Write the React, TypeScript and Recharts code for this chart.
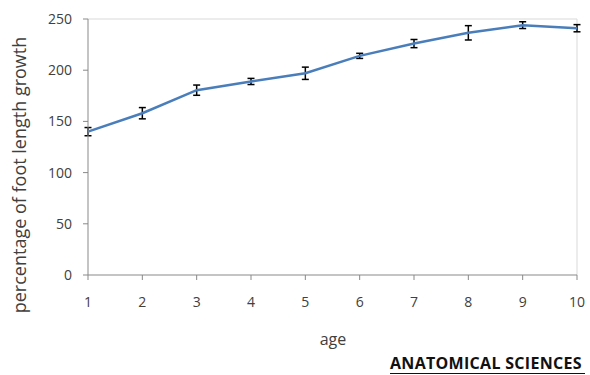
import { LineChart, Line, XAxis, YAxis, ErrorBar, ReferenceLine } from "recharts";

const ages = [1, 2, 3, 4, 5, 6, 7, 8, 9, 10];
const growth = [140, 158, 180.5, 189, 197, 214, 226, 236.5, 244, 241];
const errors = [4, 5.5, 5, 3, 6, 2.5, 4, 7, 3.3, 3.5];
const yTicks = [0, 50, 100, 150, 200, 250];

const data = ages.map((age, i) => ({ age, growth: growth[i], err: errors[i] }));

const axisGray = "#898989";
const textGray = "#404040";
const font = "'Open Sans', sans-serif";

export default function App() {
    return (
        <div style={{ position: "absolute", left: 0, top: 0, width: 590, height: 375, background: "#fff", fontFamily: font }}>
            <LineChart width={590} height={375} data={data} margin={{ top: 19, right: 13, left: 0, bottom: 0 }}>
                <ReferenceLine y={250} stroke="#d9d9d9" strokeWidth={1} />
                <ReferenceLine x={10} stroke="#d9d9d9" strokeWidth={1} />
                <XAxis
                    dataKey="age"
                    type="number"
                    domain={[1, 10]}
                    ticks={ages}
                    height={100}
                    stroke={axisGray}
                    tickSize={5}
                    tickMargin={17}
                    tick={{ fill: textGray, fontSize: 14, fontFamily: font }}
                />
                <YAxis
                    domain={[0, 250]}
                    ticks={yTicks}
                    width={88}
                    stroke={axisGray}
                    tickSize={5}
                    tickMargin={11}
                    tick={{ fill: textGray, fontSize: 14, fontFamily: font }}
                />
                <Line
                    dataKey="growth"
                    stroke="#4a7ebb"
                    strokeWidth={2.5}
                    dot={false}
                    type="linear"
                    isAnimationActive={false}
                >
                    <ErrorBar dataKey="err" direction="y" width={3.5} stroke="#000" strokeWidth={1.5} />
                </Line>
            </LineChart>

            {/* axis titles */}
            <div style={{ position: "absolute", left: 19, top: 175, transform: "translate(-50%, -50%) rotate(-90deg)", whiteSpace: "nowrap", fontSize: 18, color: textGray }}>
                percentage of foot length growth
            </div>
            <div style={{ position: "absolute", left: 333, top: 339, transform: "translate(-50%, -50%)", fontSize: 16, color: textGray }}>
                age
            </div>

            {/* watermark */}
            <div style={{ position: "absolute", left: 390, top: 355, width: 195, fontSize: 16, fontWeight: 700, color: "#111", borderBottom: "1.5px solid #111", lineHeight: "17px", paddingBottom: 1, whiteSpace: "nowrap", letterSpacing: 0.3 }}>
                ANATOMICAL SCIENCES
            </div>
        </div>
    );
}
